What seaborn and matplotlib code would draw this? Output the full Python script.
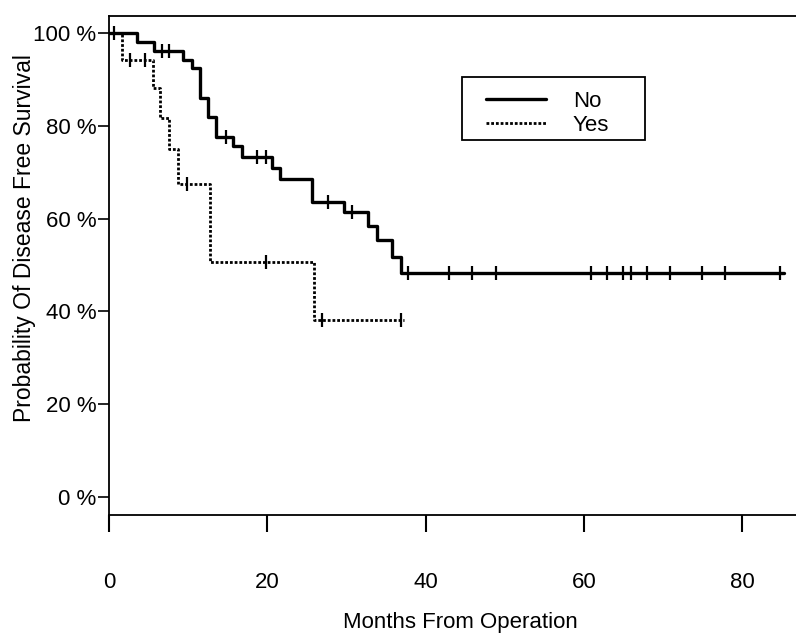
import numpy as np
import pandas as pd
import matplotlib
matplotlib.use("Agg")
import matplotlib.pyplot as plt
from matplotlib.patches import Rectangle
import seaborn as sns

# ---- data ----
no_times = [0, 3.5, 5.7, 9.4, 10.5, 11.5, 12.5, 13.5, 15.7, 16.8, 20.6, 21.6,
            25.7, 29.7, 32.7, 33.8, 35.8, 36.9]
no_surv = [100, 98.1, 96.2, 94.3, 92.5, 86.1, 82.0, 77.6, 75.6, 73.4, 70.9, 68.5,
           63.6, 61.4, 58.4, 55.4, 51.7, 48.3]
no_end = 85.3
no_censor = [0.6, 6.7, 7.6, 14.8, 18.7, 19.8, 27.7, 30.7, 37.8, 42.9, 45.9, 48.9,
             60.9, 62.9, 64.9, 65.9, 68.0, 70.9, 74.9, 77.8, 84.8]

yes_times = [0, 1.6, 5.6, 6.5, 7.6, 8.7, 12.8, 25.9]
yes_surv = [100, 94.3, 88.1, 81.8, 75.1, 67.5, 50.7, 38.1]
yes_end = 37.3
yes_censor = [2.7, 4.6, 9.8, 19.8, 26.9, 36.9]

x_ticks = [0, 20, 40, 60, 80]
y_ticks = [0, 20, 40, 60, 80, 100]
y_ticklabels = ["0 %", "20 %", "40 %", "60 %", "80 %", "100 %"]


def step_frame(times, surv, end):
    t = list(times) + [end]
    s = list(surv) + [surv[-1]]
    return pd.DataFrame({"t": t, "s": s})


def censor_frame(times, surv, cens):
    idx = np.searchsorted(times, cens, side="right") - 1
    return pd.DataFrame({"t": cens, "s": np.asarray(surv)[idx]})


sns.set_theme(style="white")
plt.rcParams["font.family"] = ["Liberation Sans", "DejaVu Sans"]
plt.rcParams["text.color"] = "black"
plt.rcParams["axes.labelcolor"] = "black"

fig = plt.figure(figsize=(7.96, 6.36), dpi=100)
ax = fig.add_axes([109 / 796, 1 - 515 / 636, 1 - 109 / 796, (515 - 16) / 636])

no_df = step_frame(no_times, no_surv, no_end)
yes_df = step_frame(yes_times, yes_surv, yes_end)

sns.lineplot(data=no_df, x="t", y="s", ax=ax, estimator=None, sort=False,
             drawstyle="steps-post", color="black", linewidth=2.4, label="No")
sns.lineplot(data=yes_df, x="t", y="s", ax=ax, estimator=None, sort=False,
             drawstyle="steps-post", color="black", linewidth=2.0,
             linestyle=(0, (1.0, 0.7)), label="Yes")

nc = censor_frame(no_times, no_surv, no_censor)
yc = censor_frame(yes_times, yes_surv, yes_censor)
sns.scatterplot(data=nc, x="t", y="s", ax=ax, marker="|", s=100, color="black",
                linewidth=1.6, legend=False)
sns.scatterplot(data=yc, x="t", y="s", ax=ax, marker="|", s=100, color="black",
                linewidth=1.6, legend=False)

ax.set_xlim(0, 86.8)
ax.set_ylim(-3.9, 103.7)
ax.set_xticks(x_ticks)
ax.set_xticklabels([str(v) for v in x_ticks])
ax.set_yticks(y_ticks)
ax.set_yticklabels(y_ticklabels)

for side in ["top", "left", "bottom"]:
    ax.spines[side].set_visible(True)
    ax.spines[side].set_color("black")
    ax.spines[side].set_linewidth(1.3)
ax.spines["right"].set_visible(False)

ax.tick_params(axis="x", direction="out", length=12, width=1.5, pad=29,
               labelsize=16, colors="black", bottom=True)
ax.tick_params(axis="y", direction="out", length=8, width=1.2, pad=1,
               labelsize=16, colors="black", left=True)

ax.set_xlabel("Months From Operation", fontsize=16, color="black")
ax.xaxis.set_label_coords((460 - 109) / 687, (515 - 612) / 499)
ax.set_ylabel("Probability Of Disease Free Survival", fontsize=16.5, color="black")
ax.yaxis.set_label_coords((36 - 109) / 687, (515 - 238) / 499)

# legend box
ax.add_patch(Rectangle(((462 - 109) / 687, (515 - 140) / 499), 183 / 687, 63 / 499,
                       transform=ax.transAxes, fill=False, edgecolor="black",
                       linewidth=1.3, zorder=5))
leg = ax.legend(loc="upper left", bbox_to_anchor=((486 - 109) / 687, (515 - 91) / 499),
                fontsize=16, frameon=False, handlelength=2.7, handletextpad=1.2,
                labelspacing=0.12, borderpad=0, borderaxespad=0)
for txt in leg.get_texts():
    txt.set_color("black")

fig.savefig("out.png", dpi=100)
